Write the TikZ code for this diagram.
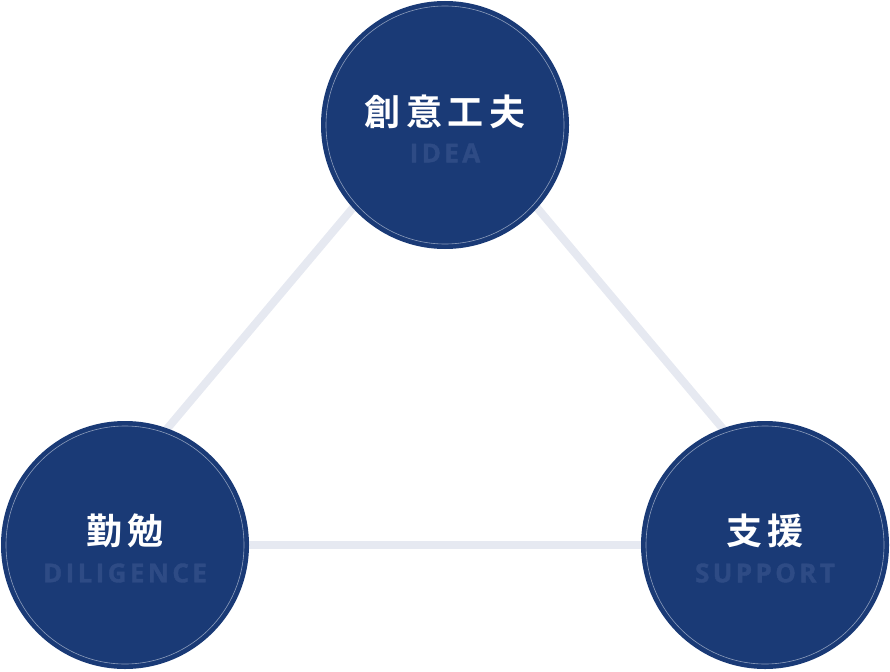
\documentclass[tikz,border=0pt]{standalone}
\usepackage{fontspec}
\usepackage{tikz}
\usetikzlibrary{backgrounds}
\newfontfamily\jpbold{Noto Sans CJK JP Bold}[LetterSpace=15]
\newfontfamily\enbold{Open Sans}[LetterSpace=13,FakeBold=1.5]
\definecolor{discblue}{HTML}{1A3A76}
\definecolor{wordblue}{HTML}{2E4B85}
\definecolor{linkgray}{HTML}{E6E9F1}
\tikzset{
  disc/.style={circle, fill=discblue, minimum size=248pt, inner sep=0pt},
  ring/.style={draw=white, draw opacity=0.5, line width=0.6pt},
  jp/.style={text=white, font=\jpbold\fontsize{36}{36}\selectfont, inner sep=0pt},
  en/.style={text=wordblue, font=\enbold\fontsize{26}{26}\selectfont\bfseries, inner sep=0pt},
  link/.style={draw=linkgray, line width=8pt, shorten <=-12pt, shorten >=-12pt}
}
\begin{document}
\begin{tikzpicture}[x=1pt,y=-1pt]
  		\useasboundingbox (0,0) rectangle (890,671);
  		\def\ringR{119pt}
  		\node[disc] (idea) at (445,125) {};
  		\node[disc] (dil) at (125,545) {};
  		\node[disc] (sup) at (765,545) {};
  		\foreach \n in {idea,dil,sup}
  			\draw[ring] (\n.center) circle (\ringR);
  		\node[jp] (idea-jp) at ([yshift=13pt]idea.center) {創意工夫};
  		\node[en] (idea-en) at ([yshift=-28pt]idea.center) {IDEA};
  		\node[jp] (dil-jp) at ([yshift=14pt]dil.center) {勤勉};
  		\node[en] (dil-en) at ([yshift=-28pt]dil.center) {DILIGENCE};
  		\node[jp] (sup-jp) at ([yshift=14pt]sup.center) {支援};
  		\node[en] (sup-en) at ([yshift=-28pt]sup.center) {SUPPORT};
  		% links behind the discs
  		\begin{scope}[on background layer]
  			\draw[link] (idea.222) -- (dil.70);
  			\draw[link] (idea.318) -- (sup.110);
  			\draw[link] (dil.east) -- (sup.west);
  		\end{scope}
  	\end{tikzpicture}
\end{document}
